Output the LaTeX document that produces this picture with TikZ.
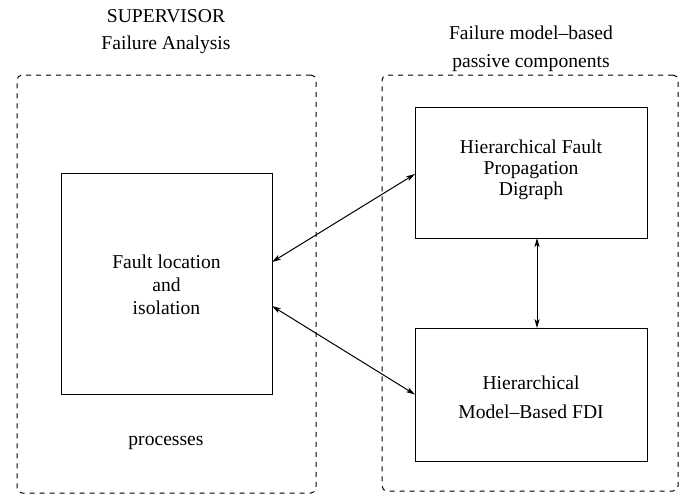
\documentclass[tikz,border=0pt]{standalone}
\usepackage{fontspec}
\setmainfont{Liberation Serif}
\usetikzlibrary{arrows.meta}
\begin{document}
\begin{tikzpicture}[x=0.5pt,y=-0.5pt,
  every node/.style={inner sep=0pt,outer sep=0pt},
  txt/.style={align=center,font=\fontsize{9.8}{#1}\selectfont},
  txt/.default=11.5pt,
  group/.style={draw,line width=0.5pt,dash pattern=on 2.5pt off 2.5pt,rounded corners=2.5pt},
  block/.style={draw,line width=0.5pt},
  link/.style={line width=0.5pt,{Stealth[length=4.5pt,width=2.6pt,inset=1.2pt]}-{Stealth[length=4.5pt,width=2.6pt,inset=1.2pt]}}]
\useasboundingbox (0,0) rectangle (688,494);

% dashed groups
\node[group,minimum width=149.5pt,minimum height=209pt] (sup) at (166.5,284) {};
\node[group,minimum width=148pt,minimum height=208pt] (pas) at (530,283) {};

% headings
\node[txt=13.5pt] (suphead) at (166,31.5) {SUPERVISOR\\Failure Analysis};
\node[txt=14pt] (pashead) at (531,49) {Failure model--based\\passive components};

% blocks
\node[block,minimum width=105.5pt,minimum height=110.5pt] (fault) at (166.5,283.5) {};
\node[block,minimum width=116pt,minimum height=65.5pt] (hfpd) at (531,172.5) {};
\node[block,minimum width=116pt,minimum height=66.5pt] (fdi) at (531,394.5) {};

% block texts
\node[txt=11.5pt] (faulttxt) at (166.5,285) {Fault location\\and\\isolation};
\node[txt=10.5pt] (hfpdtxt) at (531,169.5) {Hierarchical Fault\\Propagation\\Digraph};
\node[txt=14.5pt] (fditxt) at (531,397.5) {Hierarchical\\Model--Based FDI};
\node[txt] (proc) at (166,443) {processes};

% connectors
\draw[link] ([yshift=10.75pt]fault.east) -- ([yshift=-0.75pt]hfpd.west);
\draw[link] ([yshift=-11.25pt]fault.east) -- (fdi.west);
\draw[link] ([xshift=3pt]hfpd.south) -- ([xshift=3pt]fdi.north);
\end{tikzpicture}
\end{document}
